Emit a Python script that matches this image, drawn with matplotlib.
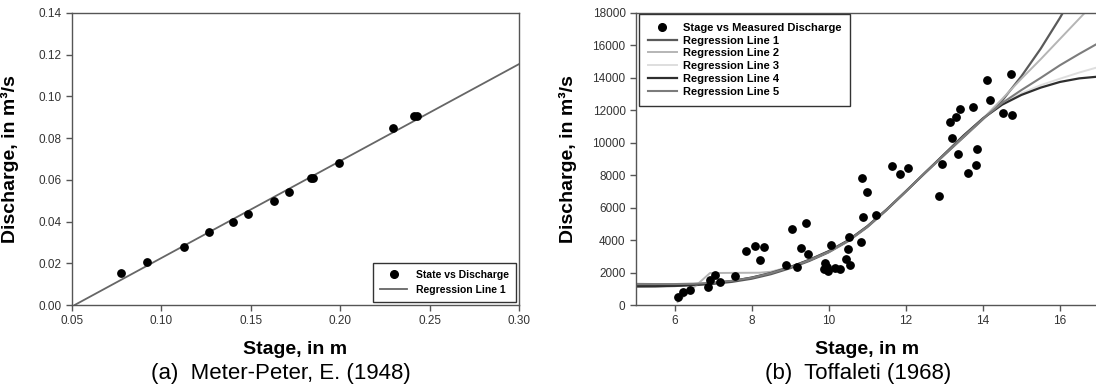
import matplotlib
matplotlib.use("Agg")
import matplotlib.pyplot as plt
from matplotlib.lines import Line2D

# ---------------- Panel (a) data ----------------
stage_a = [0.0774, 0.0919, 0.1125, 0.1269, 0.1403, 0.1485, 0.1629, 0.1711,
           0.1839, 0.1849, 0.1992, 0.2298, 0.2413, 0.2428]
discharge_a = [0.0152, 0.0204, 0.0279, 0.0351, 0.0399, 0.0438, 0.0499, 0.0542,
               0.0609, 0.0609, 0.0679, 0.0851, 0.0906, 0.0906]
reg_a_x = [0.0515, 0.30]
reg_a_y = [0.0, 0.1155]

# ---------------- Panel (b) data ----------------
stage_b = [6.08, 6.21, 6.39, 6.86, 6.92, 7.04, 7.17, 7.56, 7.85, 8.09, 8.22, 8.31,
           8.88, 9.04, 9.19, 9.29, 9.42, 9.47, 9.87, 9.9, 9.95, 9.97, 10.06, 10.16,
           10.29, 10.45, 10.5, 10.53, 10.56, 10.83, 10.88, 10.87, 10.99, 11.22,
           11.63, 11.84, 12.05, 12.86, 12.95, 13.14, 13.21, 13.3, 13.36, 13.4,
           13.62, 13.74, 13.81, 13.85, 14.1, 14.18, 14.53, 14.72, 14.75]
discharge_b = [490, 800, 925, 1110, 1540, 1850, 1420, 1790, 3330, 3640, 2770, 3580,
               2470, 4690, 2340, 3510, 5060, 3140, 2220, 2590, 2350, 2100, 3700, 2280,
               2220, 2840, 3450, 4190, 2470, 3880, 5420, 7850, 6940, 5550,
               8550, 8080, 8450, 6700, 8720, 11300, 10320, 11580, 9300, 12100,
               8150, 12200, 8600, 9600, 13900, 12650, 11850, 14250, 11700]

grid = [5, 5.5, 6, 6.5, 7, 7.5, 8, 8.5, 9, 9.5, 10, 10.5, 11, 11.5, 12, 12.5,
        13, 13.5, 14, 14.5, 15, 15.5, 16, 16.5, 17]
reg1 = [1150, 1150, 1170, 1220, 1300, 1430, 1620, 1900, 2270, 2720, 3250, 3930,
        4800, 5850, 7000, 8150, 9250, 10350, 11450, 12600, 14100, 15800, 17700,
        19800, 22000]
reg3 = [1300, 1290, 1290, 1320, 1380, 1500, 1690, 1970, 2340, 2780, 3300, 3970,
        4840, 5870, 7000, 8150, 9290, 10420, 11490, 12400, 13050, 13550, 13950,
        14330, 14670]
reg4 = [1150, 1160, 1190, 1250, 1340, 1480, 1690, 1970, 2340, 2790, 3320, 3980,
        4850, 5880, 7000, 8150, 9300, 10450, 11500, 12350, 12950, 13400, 13750,
        13970, 14080]
reg5 = [1300, 1290, 1290, 1310, 1370, 1490, 1680, 1960, 2320, 2770, 3290, 3960,
        4830, 5870, 7000, 8150, 9280, 10400, 11480, 12450, 13250, 14000, 14780,
        15480, 16150]
reg2_x = [6.08, 6.5, 6.92, 7.5, 8.2, 8.5, 9, 9.5, 10, 10.5, 11, 11.5, 12, 12.5,
          13, 13.5, 14, 14.5, 15, 15.5, 16, 16.5, 17]
reg2_y = [185, 1080, 1970, 1980, 1990, 2050, 2350, 2780, 3280, 3950, 4830, 5880,
          7000, 8150, 9280, 10400, 11480, 12700, 13950, 15150, 16400, 17650, 18900]

caption_a = "(a)  Meter-Peter, E. (1948)"
caption_b = "(b)  Toffaleti (1968)"

plt.rcParams['font.family'] = ['Liberation Sans', 'DejaVu Sans']

W, H = 1096, 390
fig = plt.figure(figsize=(W / 100, H / 100), dpi=100)

spine_c = '#555555'
tick_c = '#333333'


def style(ax):
    for s in ax.spines.values():
        s.set_color(spine_c)
        s.set_linewidth(1.0)
    ax.tick_params(direction='out', length=4, width=1, colors=spine_c,
                   labelcolor=tick_c, labelsize=8.5, top=False, right=False)


# ---------------- Panel (a) ----------------
ax1 = fig.add_axes([72 / W, (H - 305) / H, 447 / W, 292 / H])
ax1.plot(reg_a_x, reg_a_y, color='#666666', lw=1.3, zorder=2)
ax1.scatter(stage_a, discharge_a, s=28, color='black', zorder=3)
ax1.set_xlim(0.05, 0.30)
ax1.set_ylim(0.0, 0.14)
ax1.set_xticks([0.05, 0.10, 0.15, 0.20, 0.25, 0.30])
ax1.set_yticks([0.00, 0.02, 0.04, 0.06, 0.08, 0.10, 0.12, 0.14])
ax1.xaxis.set_major_formatter(matplotlib.ticker.FormatStrFormatter('%.2f'))
ax1.yaxis.set_major_formatter(matplotlib.ticker.FormatStrFormatter('%.2f'))
style(ax1)
ax1.set_xlabel('Stage, in m', fontsize=14, fontweight='bold')
ax1.set_ylabel('Discharge, in m³/s', fontsize=14, fontweight='bold')
ax1.yaxis.set_label_coords(-0.118, 0.5)
ax1.xaxis.set_label_coords(0.5, -0.125)
h1 = [Line2D([], [], marker='o', ls='none', color='black', ms=5.5),
      Line2D([], [], color='#666666', lw=1.3)]
leg1 = ax1.legend(h1, ['State vs Discharge', 'Regression Line 1'], loc='lower right',
                  prop={'weight': 'bold', 'size': 7.5}, fancybox=False,
                  edgecolor='#333333', framealpha=1, borderaxespad=0.3,
                  handlelength=2.6, labelspacing=0.45, borderpad=0.7,
                  handletextpad=0.8)
leg1.get_frame().set_linewidth(1.0)

# ---------------- Panel (b) ----------------
ax2 = fig.add_axes([636 / W, (H - 305) / H, 462.5 / W, 292 / H])
ax2.plot(grid, reg1, color='#5a5a5a', lw=1.6, zorder=2)
ax2.plot(reg2_x, reg2_y, color='#b5b5b5', lw=1.4, zorder=2)
ax2.plot(grid, reg3, color='#dedede', lw=1.4, zorder=2)
ax2.plot(grid, reg4, color='#2e2e2e', lw=1.6, zorder=2)
ax2.plot(grid, reg5, color='#7c7c7c', lw=1.5, zorder=2)
ax2.scatter(stage_b, discharge_b, s=28, color='black', zorder=3)
ax2.set_xlim(5, 17)
ax2.set_ylim(0, 18000)
ax2.set_xticks([6, 8, 10, 12, 14, 16])
ax2.set_yticks(range(0, 18001, 2000))
style(ax2)
ax2.spines['right'].set_visible(False)
ax2.set_xlabel('Stage, in m', fontsize=14, fontweight='bold')
ax2.set_ylabel('Discharge, in m³/s', fontsize=14, fontweight='bold')
ax2.yaxis.set_label_coords(-0.128, 0.5)
ax2.xaxis.set_label_coords(0.5, -0.125)
h2 = [Line2D([], [], marker='o', ls='none', color='black', ms=5.5),
      Line2D([], [], color='#5a5a5a', lw=1.6),
      Line2D([], [], color='#b5b5b5', lw=1.4),
      Line2D([], [], color='#dedede', lw=1.4),
      Line2D([], [], color='#2e2e2e', lw=1.6),
      Line2D([], [], color='#7c7c7c', lw=1.5)]
labs2 = ['Stage vs Measured Discharge', 'Regression Line 1', 'Regression Line 2',
         'Regression Line 3', 'Regression Line 4', 'Regression Line 5']
leg2 = ax2.legend(h2, labs2, loc='upper left', bbox_to_anchor=(0.006, 0.997),
                  prop={'weight': 'bold', 'size': 8}, fancybox=False,
                  edgecolor='#333333', framealpha=1, borderaxespad=0.0,
                  handlelength=2.6, labelspacing=0.25, borderpad=0.8,
                  handletextpad=0.55)
leg2.get_frame().set_linewidth(1.0)

# ---------------- Captions ----------------
cap_font = ['Liberation Sans', 'DejaVu Sans']
fig.text(281 / W, 1 - 373 / H, caption_a, ha='center', va='center', fontsize=16,
         family=cap_font)
fig.text(858 / W, 1 - 373 / H, caption_b, ha='center', va='center', fontsize=16,
         family=cap_font)

fig.savefig('out.png', dpi=100)
